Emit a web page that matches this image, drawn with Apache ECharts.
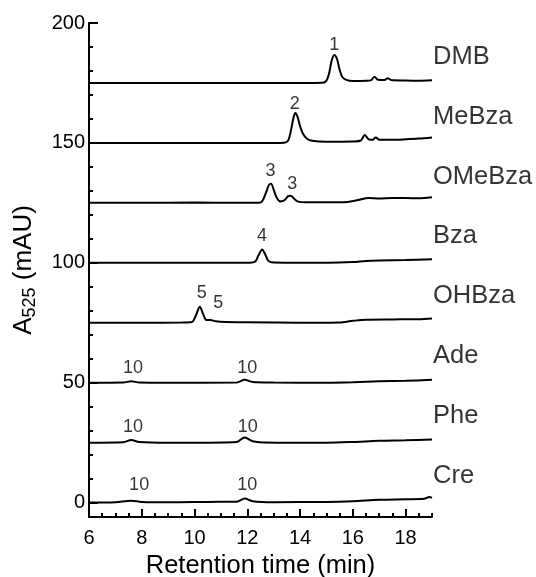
<!DOCTYPE html>
<html>
<head>
<meta charset="utf-8">
<script src="https://cdn.jsdelivr.net/npm/echarts@6/dist/echarts.min.js"></script>
<style>html,body{margin:0;padding:0;background:#fff}#chart{width:536px;height:577px}</style>
</head>
<body>
<div id="chart"></div>
<script>
// ---- data ----
const traceNames = ['DMB','MeBza','OMeBza','Bza','OHBza','Ade','Phe','Cre'];
const DMB = [[6,175],[8,175],[10,175],[12,175],[14,175],[14.85,175.1],[15.0,176],[15.1,179],[15.2,184.5],[15.3,186.7],[15.4,185],[15.5,180.5],[15.6,177.5],[15.75,176.3],[16,175.8],[16.5,175.9],[16.7,176.2],[16.82,177.6],[16.95,176.3],[17.2,176.2],[17.32,177],[17.45,176.2],[18,176],[18.5,175.9],[19,176.1]];
const MeBza = [[6,150],[9,150],[11,150],[13,150],[13.4,150.1],[13.55,151],[13.65,155],[13.75,160.5],[13.82,162.5],[13.9,161],[14.0,157],[14.1,154],[14.25,151.8],[14.45,150.9],[15,150.5],[16,150.6],[16.3,151],[16.45,153.3],[16.6,151.5],[16.75,151.3],[16.87,152.3],[17,151.3],[17.5,151.3],[18,151.5],[18.5,151.8],[19,152.3]];
const OMeBza = [[6,125],[8,125],[10,125.1],[11.5,125],[12.4,125],[12.55,125.5],[12.7,129],[12.82,132.5],[12.9,133],[13.0,130.5],[13.1,127.5],[13.25,125.6],[13.4,126],[13.55,127.8],[13.65,128],[13.75,127],[13.9,125.6],[14.2,125.2],[15,125.2],[15.8,125.4],[16.2,126.2],[16.6,127],[17,126.8],[17.5,127],[18,127],[18.5,126.9],[19,127.3]];
const Bza = [[6,100],[9,100],[11,100],[12.1,100],[12.3,100.5],[12.42,103],[12.56,105.6],[12.68,103.5],[12.8,100.8],[13,100.1],[14,100],[15,100],[16,100.3],[16.5,100.8],[17,101],[18,101.2],[19,101.5]];
const OHBza = [[6,75],[8,75],[9.5,75.1],[9.9,75.3],[10.05,78],[10.2,81.7],[10.33,78.5],[10.45,76.1],[10.6,76.2],[10.8,75.6],[11.2,75.3],[12,75.2],[14,75],[15.5,75.1],[16,75.8],[16.5,76.3],[17.5,76.4],[18.5,76.5],[19,76.8]];
const Ade = [[6,50],[7.3,50.1],[7.6,50.6],[7.9,50.1],[9,50],[11.6,50.1],[11.9,51.2],[12.2,50.3],[13,50.1],[15,50],[16,50.2],[17,50.6],[18,50.8],[19,51.2]];
const Phe = [[6,25],[7.3,25.2],[7.6,26.1],[7.9,25.3],[9,25],[10,25],[11.6,25.3],[11.9,27.2],[12.2,25.6],[12.6,25.1],[14,25],[15,25],[16,25.3],[17,25.8],[18,26],[19,26.3]];
const Cre = [[6,0],[7,0.2],[7.6,0.8],[8,0.3],[9,0.1],[10.5,0.3],[11.6,0.4],[11.9,1.7],[12.2,0.6],[13,0.2],[15,0.3],[16,0.6],[17,1.2],[18,1.4],[18.7,1.6],[18.9,2.3],[19,2.0]];
const traces = [DMB, MeBza, OMeBza, Bza, OHBza, Ade, Phe, Cre];

// trace name labels (value position at right end, x = 19)
const nameLabelY = [186, 161, 136, 111, 86, 61, 36, 11];

// peak number labels
const peakLabelText = ['1','2','3','3','4','5','5','10','10','10','10','10','10'];
const peakLabelX = [15.3, 13.8, 12.88, 13.7, 12.56, 10.27, 10.9, 7.67, 12.0, 7.67, 12.02, 7.9, 12.0];
const peakLabelY = [190.8, 166.2, 138.3, 132.9, 111.2, 87.4, 83.2, 56.1, 56.1, 31.5, 31.5, 7.3, 7.3];

// axes ticks
const xMajorTicks = [6, 8, 10, 12, 14, 16, 18];
const xMinorTicks = [6.5,7,7.5,8.5,9,9.5,10.5,11,11.5,12.5,13,13.5,14.5,15,15.5,16.5,17,17.5,18.5,19];
const yMajorTicks = [0, 50, 100, 150, 200];
const yMinorTicks = [10,20,30,40,60,70,80,90,110,120,130,140,160,170,180,190];

const FONT = "'Liberation Sans', Arial, sans-serif";
const chart = echarts.init(document.getElementById('chart'), null, {renderer: 'canvas'});

const series = traces.map((d, i) => ({
  type: 'line', name: traceNames[i], data: d, showSymbol: false, smooth: 0.3,
  xAxisIndex: 0, yAxisIndex: 0,
  lineStyle: {color: '#000', width: 2}, silent: true, z: 3
}));
series.push({
  type: 'scatter', symbolSize: 0, silent: true, xAxisIndex: 0, yAxisIndex: 0,
  data: traceNames.map((n, i) => ({name: n, value: [19, nameLabelY[i]]})),
  label: {show: true, position: 'right', distance: 1, formatter: p => p.name,
    color: '#000', fontSize: 25.5, fontFamily: FONT}
});
series.push({
  type: 'scatter', symbolSize: 0, silent: true, xAxisIndex: 0, yAxisIndex: 0,
  data: peakLabelText.map((t, i) => ({name: t, value: [peakLabelX[i], peakLabelY[i]]})),
  label: {show: true, position: 'inside', formatter: p => p.name,
    color: '#000', fontSize: 18, fontFamily: FONT}
});

chart.setOption({
  animation: false,
  backgroundColor: '#fff',
  grid: {left: 89, right: 104, top: 23, bottom: 60, containLabel: false, outerBoundsMode: 'none'},
  xAxis: [{
    type: 'value', min: 6, max: 19, position: 'bottom',
    name: 'Retention time (min)', nameLocation: 'middle', nameGap: 36,
    nameTextStyle: {fontSize: 25.5, color: '#000', fontFamily: FONT},
    axisLine: {show: true, onZero: false, lineStyle: {color: '#000', width: 2}},
    axisTick: {show: true, inside: true, length: 8, customValues: xMajorTicks, lineStyle: {color: '#000', width: 2}},
    axisLabel: {show: true, margin: 11, customValues: xMajorTicks, fontSize: 20, color: '#000', fontFamily: FONT},
    splitLine: {show: false}
  }, {
    type: 'value', min: 6, max: 19, position: 'bottom',
    axisLine: {show: false, onZero: false},
    axisTick: {show: true, inside: true, length: 4, customValues: xMinorTicks, lineStyle: {color: '#000', width: 2}},
    axisLabel: {show: false},
    splitLine: {show: false}
  }],
  yAxis: [{
    type: 'value', min: -6, max: 200, position: 'left',
    name: '{a|A}{s|525}{a| (mAU)}', nameLocation: 'middle', nameGap: 50, nameRotate: 90,
    nameTextStyle: {color: '#000', fontFamily: FONT,
      rich: {a: {fontSize: 26, color: '#000', fontFamily: FONT},
             s: {fontSize: 18, color: '#000', fontFamily: FONT, padding: [13, 0, 0, 0]}}},
    axisLine: {show: true, onZero: false, lineStyle: {color: '#000', width: 2}},
    axisTick: {show: true, inside: true, length: 9, customValues: yMajorTicks, lineStyle: {color: '#000', width: 2}},
    axisLabel: {show: true, margin: 4, customValues: yMajorTicks, fontSize: 20, color: '#000', fontFamily: FONT},
    splitLine: {show: false}
  }, {
    type: 'value', min: -6, max: 200, position: 'left',
    axisLine: {show: false, onZero: false},
    axisTick: {show: true, inside: true, length: 4, customValues: yMinorTicks, lineStyle: {color: '#000', width: 2}},
    axisLabel: {show: false},
    splitLine: {show: false}
  }],
  series: series
});
</script>
</body>
</html>
